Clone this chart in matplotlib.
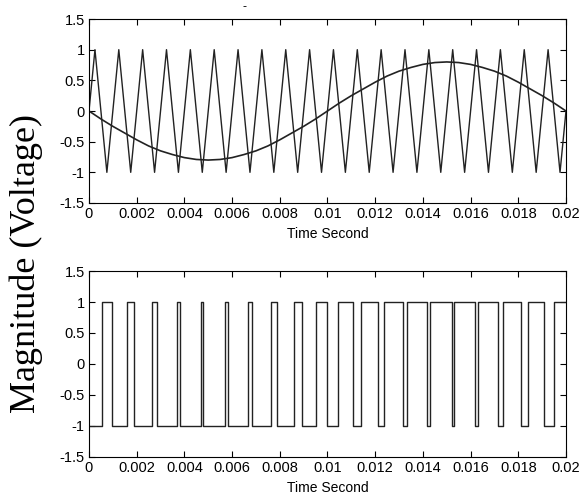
import numpy as np
import matplotlib
matplotlib.use("Agg")
import matplotlib.pyplot as plt

# triangular carrier, vertices (time s, value)
carrier_t = [0, 0.00025, 0.00075, 0.00125, 0.00175, 0.00225, 0.00275, 0.00325, 0.00375,
             0.00425, 0.00475, 0.00525, 0.00575, 0.00625, 0.00675, 0.00725, 0.00775,
             0.00825, 0.00875, 0.00925, 0.00975, 0.01025, 0.01075, 0.01125, 0.01175,
             0.01225, 0.01275, 0.01325, 0.01375, 0.01425, 0.01475, 0.01525, 0.01575,
             0.01625, 0.01675, 0.01725, 0.01775, 0.01825, 0.01875, 0.01925, 0.01975, 0.02]
carrier_v = [0, 1, -1, 1, -1, 1, -1, 1, -1, 1, -1, 1, -1, 1, -1, 1, -1, 1, -1, 1, -1,
             1, -1, 1, -1, 1, -1, 1, -1, 1, -1, 1, -1, 1, -1, 1, -1, 1, -1, 1, -1, 0]

# reference (modulating) wave, read every 0.5 ms
ref_t = [i * 0.0005 for i in range(41)]
ref_v = [0, -0.13, -0.25, -0.36, -0.47, -0.57, -0.65, -0.71, -0.76, -0.79, -0.80,
         -0.79, -0.76, -0.71, -0.65, -0.57, -0.47, -0.36, -0.25, -0.13, 0,
         0.13, 0.25, 0.36, 0.47, 0.57, 0.65, 0.71, 0.76, 0.79, 0.80,
         0.79, 0.76, 0.71, 0.65, 0.57, 0.47, 0.36, 0.25, 0.13, 0]

# PWM output: switch-on and switch-off times
pwm_on = [0.00055, 0.00160, 0.00265, 0.00368, 0.00470, 0.00569, 0.00667, 0.00763,
          0.00858, 0.00952, 0.01045, 0.01140, 0.01235, 0.01332, 0.01430, 0.01531,
          0.01633, 0.01737, 0.01842, 0.01948]
pwm_off = [0.00095, 0.00190, 0.00285, 0.00382, 0.00480, 0.00581, 0.00683, 0.00787,
           0.00892, 0.00998, 0.01105, 0.01210, 0.01315, 0.01418, 0.01520, 0.01619,
           0.01717, 0.01813, 0.01908, 0.02]

xticks = [0, 0.002, 0.004, 0.006, 0.008, 0.01, 0.012, 0.014, 0.016, 0.018, 0.02]
xlabels = ['0', '0.002', '0.004', '0.006', '0.008', '0.01', '0.012', '0.014', '0.016', '0.018', '0.02']
yticks = [-1.5, -1, -0.5, 0, 0.5, 1, 1.5]
ylabels = ['-1.5', '-1', '-0.5', '0', '0.5', '1', '1.5']

plt.rcParams['font.family'] = ['Liberation Sans', 'DejaVu Sans']

fig = plt.figure(figsize=(5.87, 4.99), dpi=100)
ax1 = fig.add_axes([0.1516, 0.5932, 0.8126, 0.3687])
ax2 = fig.add_axes([0.1516, 0.0842, 0.8126, 0.3727])

ax1.plot(carrier_t, carrier_v, color='#222222', lw=1.0)
ax1.plot(ref_t, ref_v, color='#222222', lw=1.2)

px, py = [0], [-1]
for on, off in zip(pwm_on, pwm_off):
    px += [on, on, off]
    py += [-1, 1, 1]
    if off < 0.02:
        px.append(off)
        py.append(-1)
if px[-1] < 0.02:
    px.append(0.02)
    py.append(py[-1])
ax2.plot(px, py, color='#222222', lw=1.0)

for ax in (ax1, ax2):
    ax.set_xlim(0, 0.02)
    ax.set_ylim(-1.5, 1.5)
    ax.set_xticks(xticks)
    ax.set_xticklabels(xlabels)
    ax.set_yticks(yticks)
    ax.set_yticklabels(ylabels)
    ax.tick_params(direction='in', top=True, right=True, length=4, width=0.8,
                   labelsize=10.5, pad=3)
    for s in ax.spines.values():
        s.set_linewidth(0.8)
    ax.set_xlabel('Time Second', fontsize=10, labelpad=4)

fig.text(0.417, 0.985, '-', fontsize=9, ha='center', va='center')
fig.text(0.044, 0.471, 'Magnitude (Voltage)', rotation=90, fontsize=26,
         family=['Liberation Serif', 'DejaVu Serif'], ha='center', va='center')

fig.savefig('out.png', dpi=100)
